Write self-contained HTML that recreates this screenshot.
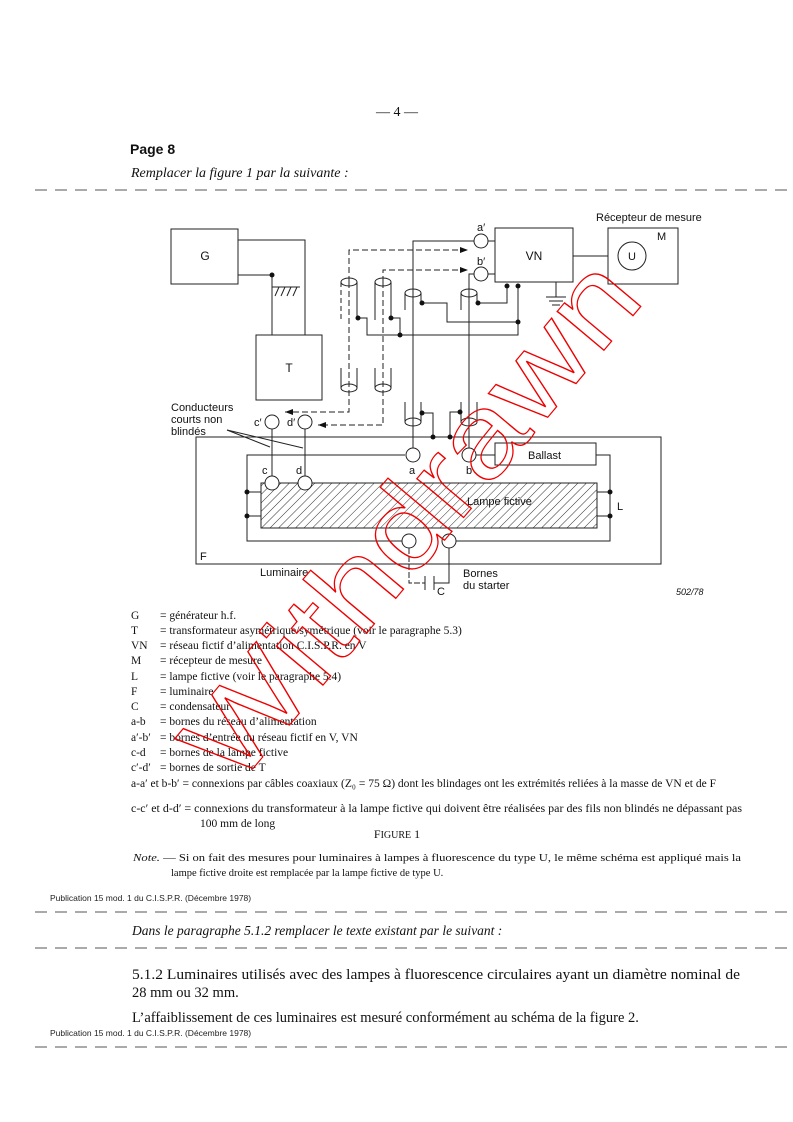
<!DOCTYPE html>
<html><head><meta charset="utf-8"><style>
html,body{margin:0;padding:0;background:#fff}
svg{display:block}
.s{font-family:"Liberation Serif",serif}
.a{font-family:"Liberation Sans",sans-serif}
</style></head><body>
<svg width="793" height="1122" viewBox="0 0 793 1122" xmlns="http://www.w3.org/2000/svg">
<defs>
<pattern id="h" width="6" height="6" patternUnits="userSpaceOnUse" patternTransform="rotate(45)">
<line x1="0" y1="0" x2="0" y2="6" stroke="#333" stroke-width="1"/></pattern>
<marker id="ar" markerWidth="8" markerHeight="6" refX="8" refY="3" orient="auto"><path d="M0,0 L8,3 L0,6z" fill="#111"/></marker>
</defs>
<g fill="#111">
<text x="397" y="116" class="s" font-size="14" text-anchor="middle">— 4 —</text>
<text x="130" y="154" class="a" font-size="14" font-weight="bold">Page 8</text>
<text x="131" y="177" class="s" font-size="14" font-style="italic">Remplacer la figure 1 par la suivante :</text>
</g>
<g stroke="#555" stroke-width="1" stroke-dasharray="12,8">
<line x1="35" y1="190" x2="790" y2="190"/>
<line x1="35" y1="912" x2="790" y2="912"/>
<line x1="35" y1="948" x2="790" y2="948"/>
<line x1="35" y1="1047" x2="790" y2="1047"/>
</g>

<g stroke="#222" stroke-width="1" fill="none">
<rect x="171" y="229" width="67" height="55"/>
<rect x="256" y="335" width="66" height="65"/>
<rect x="495" y="228" width="78" height="54"/>
<rect x="608" y="228" width="70" height="56"/>
<circle cx="632" cy="256" r="14"/>
<line x1="573" y1="256" x2="608" y2="256"/>
<polyline points="238,240 305,240 305,335"/>
<polyline points="238,275 272,275 272,335"/>
<line x1="272" y1="287" x2="300" y2="287"/>
<path d="M275,296 l4,-9 M281,296 l4,-9 M287,296 l4,-9 M293,296 l4,-9"/>
<circle cx="272" cy="422" r="7"/><circle cx="305" cy="422" r="7"/>
<circle cx="481" cy="241" r="7"/><circle cx="481" cy="274" r="7"/>
<line x1="488" y1="241" x2="495" y2="241"/><line x1="488" y1="274" x2="495" y2="274"/>
<line x1="556" y1="282" x2="556" y2="297"/>
<line x1="546" y1="297" x2="566" y2="297"/><line x1="549" y1="301" x2="563" y2="301"/><line x1="552" y1="305" x2="560" y2="305"/>
<g>
<ellipse cx="349" cy="282" rx="8" ry="4"/><line x1="341" y1="282" x2="341" y2="320" stroke-dasharray="5,3"/><line x1="357" y1="282" x2="357" y2="318"/>
<ellipse cx="383" cy="282" rx="8" ry="4"/><line x1="375" y1="282" x2="375" y2="320"/><line x1="391" y1="282" x2="391" y2="318"/>
<ellipse cx="349" cy="388" rx="8" ry="4"/><line x1="341" y1="368" x2="341" y2="388"/><line x1="357" y1="368" x2="357" y2="388"/>
<ellipse cx="383" cy="388" rx="8" ry="4"/><line x1="375" y1="368" x2="375" y2="388"/><line x1="391" y1="368" x2="391" y2="388"/>
<ellipse cx="413" cy="293" rx="8" ry="4"/><line x1="405" y1="293" x2="405" y2="310"/><line x1="421" y1="293" x2="421" y2="303"/>
<ellipse cx="469" cy="293" rx="8" ry="4"/><line x1="461" y1="293" x2="461" y2="310"/><line x1="477" y1="293" x2="477" y2="303"/>
<ellipse cx="413" cy="422" rx="8" ry="4"/><line x1="405" y1="402" x2="405" y2="422"/><line x1="421" y1="402" x2="421" y2="422"/>
<ellipse cx="469" cy="422" rx="8" ry="4"/><line x1="461" y1="402" x2="461" y2="422"/><line x1="477" y1="402" x2="477" y2="422"/>
</g>
<polyline points="357,318 367,318 367,335 518,335 518,286"/>
<polyline points="391,318 400,318 400,335"/>
<polyline points="421,303 447,303 447,322 518,322"/>
<polyline points="477,303 507,303 507,286"/>
<polyline points="421,413 433,413 433,437"/>
<polyline points="461,412 450,412 450,437"/>
<polyline points="474,241 413,241 413,448"/>
<polyline points="474,274 469,274 469,448"/>
<g stroke-dasharray="6,3">
<polyline points="349,282 349,250 468,250" marker-end="url(#ar)"/>
<polyline points="349,282 349,412 285,412" marker-end="url(#ar)"/>
<polyline points="383,282 383,270 468,270" marker-end="url(#ar)"/>
<polyline points="383,282 383,425 318,425" marker-end="url(#ar)"/>
</g>
<rect x="196" y="437" width="465" height="127"/>
<line x1="227" y1="430" x2="270" y2="447"/><line x1="227" y1="430" x2="303" y2="448"/>
<line x1="272" y1="429" x2="272" y2="476"/><line x1="305" y1="429" x2="305" y2="476"/>
<polyline points="405,455 247,455 247,541 402,541"/>
<circle cx="413" cy="455" r="7"/><circle cx="469" cy="455" r="7"/>
<line x1="476" y1="455" x2="495" y2="455"/>
<rect x="495" y="443" width="101" height="22"/>
<polyline points="596,455 610,455 610,541 456,541"/>
<circle cx="409" cy="541" r="7"/><circle cx="449" cy="541" r="7"/>
<rect x="261" y="483" width="336" height="45" fill="url(#h)"/>
<circle cx="272" cy="483" r="7" fill="#fff"/><circle cx="305" cy="483" r="7" fill="#fff"/>
<line x1="247" y1="492" x2="261" y2="492"/><line x1="247" y1="516" x2="261" y2="516"/>
<line x1="597" y1="492" x2="610" y2="492"/><line x1="597" y1="516" x2="610" y2="516"/>
<polyline points="409,548 409,583 425,583" stroke-dasharray="6,2"/>
<line x1="425" y1="576" x2="425" y2="590"/><line x1="434" y1="576" x2="434" y2="590"/>
<polyline points="434,583 449,583 449,548"/>
</g>
<g fill="#111">
<circle cx="272" cy="275" r="2.5"/><circle cx="507" cy="286" r="2.5"/><circle cx="518" cy="286" r="2.5"/>
<circle cx="358" cy="318" r="2.5"/><circle cx="391" cy="318" r="2.5"/><circle cx="400" cy="335" r="2.5"/>
<circle cx="422" cy="303" r="2.5"/><circle cx="478" cy="303" r="2.5"/><circle cx="518" cy="322" r="2.5"/>
<circle cx="422" cy="413" r="2.5"/><circle cx="460" cy="412" r="2.5"/><circle cx="433" cy="437" r="2.5"/><circle cx="450" cy="437" r="2.5"/>
<circle cx="247" cy="492" r="2.5"/><circle cx="247" cy="516" r="2.5"/><circle cx="610" cy="492" r="2.5"/><circle cx="610" cy="516" r="2.5"/>
</g>
<g class="a" font-size="11" fill="#111">
<text x="205" y="260" text-anchor="middle" font-size="12">G</text>
<text x="289" y="372" text-anchor="middle" font-size="12">T</text>
<text x="534" y="260" text-anchor="middle" font-size="12">VN</text>
<text x="632" y="260" text-anchor="middle">U</text>
<text x="657" y="240">M</text>
<text x="596" y="221">Récepteur de mesure</text>
<text x="477" y="231">a′</text><text x="477" y="265">b′</text>
<text x="254" y="426">c′</text><text x="287" y="426">d′</text>
<text x="171" y="411">Conducteurs</text><text x="171" y="423">courts non</text><text x="171" y="435">blindés</text>
<text x="262" y="474">c</text><text x="296" y="474">d</text>
<text x="409" y="474">a</text><text x="466" y="474">b</text>
<text x="528" y="459">Ballast</text>
<text x="467" y="505">Lampe fictive</text>
<text x="617" y="510">L</text>
<text x="200" y="560">F</text>
<text x="260" y="576">Luminaire</text>
<text x="463" y="577">Bornes</text><text x="463" y="589">du starter</text>
<text x="437" y="595">C</text>
<text x="676" y="595" font-size="9" font-style="italic">502/78</text>
</g>
<g class="s" font-size="11.5" fill="#111">
<text x="131" y="619">G</text><text x="160" y="619">= générateur h.f.</text>
<text x="131" y="634">T</text><text x="160" y="634">= transformateur asymétrique/symétrique (voir le paragraphe 5.3)</text>
<text x="131" y="649">VN</text><text x="160" y="649">= réseau fictif d’alimentation C.I.S.P.R. en V</text>
<text x="131" y="664">M</text><text x="160" y="664">= récepteur de mesure</text>
<text x="131" y="680">L</text><text x="160" y="680">= lampe fictive (voir le paragraphe 5.4)</text>
<text x="131" y="695">F</text><text x="160" y="695">= luminaire</text>
<text x="131" y="710">C</text><text x="160" y="710">= condensateur</text>
<text x="131" y="725">a-b</text><text x="160" y="725">= bornes du réseau d’alimentation</text>
<text x="131" y="741">a′-b′</text><text x="160" y="741">= bornes d’entrée du réseau fictif en V, VN</text>
<text x="131" y="756">c-d</text><text x="160" y="756">= bornes de la lampe fictive</text>
<text x="131" y="771">c′-d′</text><text x="160" y="771">= bornes de sortie de T</text>
<text x="131" y="787" textLength="585" lengthAdjust="spacingAndGlyphs">a-a′ et b-b′ = connexions par câbles coaxiaux (Z₀ = 75 Ω) dont les blindages ont les extrémités reliées à la masse de VN et de F</text>
<text x="131" y="812" textLength="611" lengthAdjust="spacingAndGlyphs">c-c′ et d-d′ = connexions du transformateur à la lampe fictive qui doivent être réalisées par des fils non blindés ne dépassant pas</text>
<text x="200" y="827">100 mm de long</text>
<text x="397" y="838" font-size="12" text-anchor="middle">F<tspan font-size="10">IGURE</tspan> 1</text>
<text x="133" y="861" font-size="10.5" textLength="608" lengthAdjust="spacingAndGlyphs"><tspan font-style="italic">Note.</tspan> — Si on fait des mesures pour luminaires à lampes à fluorescence du type U, le même schéma est appliqué mais la</text>
<text x="171" y="876" font-size="10.5">lampe fictive droite est remplacée par la lampe fictive de type U.</text>
<text x="132" y="935" font-size="13.5" font-style="italic">Dans le paragraphe 5.1.2 remplacer le texte existant par le suivant :</text>
<text x="132" y="979" font-size="14.5" textLength="608" lengthAdjust="spacingAndGlyphs">5.1.2   Luminaires utilisés avec des lampes à fluorescence circulaires ayant un diamètre nominal de</text>
<text x="132" y="997" font-size="14.5">28 mm ou 32 mm.</text>
<text x="132" y="1022" font-size="14.5">L’affaiblissement de ces luminaires est mesuré conformément au schéma de la figure 2.</text>
</g>
<g class="a" font-size="8.5" fill="#222">
<text x="50" y="901">Publication 15 mod. 1 du C.I.S.P.R.    (Décembre 1978)</text>
<text x="50" y="1036">Publication 15 mod. 1 du C.I.S.P.R.    (Décembre 1978)</text>
</g>
<text x="0" y="0" transform="translate(235,790) rotate(-50)" class="a" font-size="115" fill="none" stroke="#e00" stroke-width="1.2" textLength="640" lengthAdjust="spacingAndGlyphs">Withdrawn</text>
</svg>
</body></html>
